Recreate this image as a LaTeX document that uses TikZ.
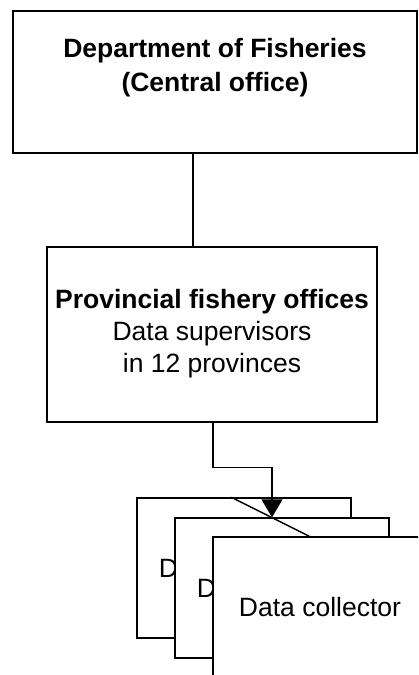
\documentclass[tikz,border=0pt]{standalone}
\usepackage{fontspec}
\setmainfont{Liberation Sans}
\usetikzlibrary{arrows.meta}
\tikzset{
  box/.style={draw, line width=1.4pt, fill=white, rectangle, inner sep=0pt},
  txt/.style={font=\fontsize{26.5}{32}\selectfont, anchor=base, inner sep=0pt},
  boldtxt/.style={txt, font=\fontsize{26.5}{32}\selectfont\bfseries},
  collector/.style={box, minimum width=214pt, minimum height=140pt, font=\fontsize{26.5}{32}\selectfont},
  conn/.style={line width=1.4pt},
}
\begin{document}
\begin{tikzpicture}[x=1pt,y=-1pt]
\useasboundingbox (0,0) rectangle (418,675);
\clip (0,0) rectangle (418,675);
% top box
\node[box, minimum width=404pt, minimum height=142pt] (dof) at (215,82) {};
\node[boldtxt] (dofa) at (215,57.5) {Department of Fisheries};
\node[boldtxt] (dofb) at (215,91.5) {(Central office)};
% middle box
\node[box, minimum width=330pt, minimum height=175pt] (prov) at (212,334.5) {};
\node[boldtxt] (prova) at (212,308) {Provincial fishery offices};
\node[txt] (provb) at (212,340) {Data supervisors};
\node[txt] (provc) at (212,372) {in 12 provinces};
% connector top -> middle
\draw[conn] ([xshift=-22pt]dof.south) -- ([xshift=-19pt]prov.north);
% stacked collectors
\node[collector] (colA) at (244,568) {Data collector\hspace*{8pt}};
\node[collector] (colB) at (282,588) {Data collector\hspace*{8pt}};
\draw[conn] ([xshift=95pt]colA.north west) -- ([xshift=135pt,yshift=-19pt]colB.north west);
\draw[conn, -{Triangle[width=21pt,length=18pt]}] ([xshift=1pt]prov.south) -- ++(0,45) -| ([xshift=-10pt]colB.north);
\node[collector] (colC) at (320,607) {Data collector};
\end{tikzpicture}
\end{document}
